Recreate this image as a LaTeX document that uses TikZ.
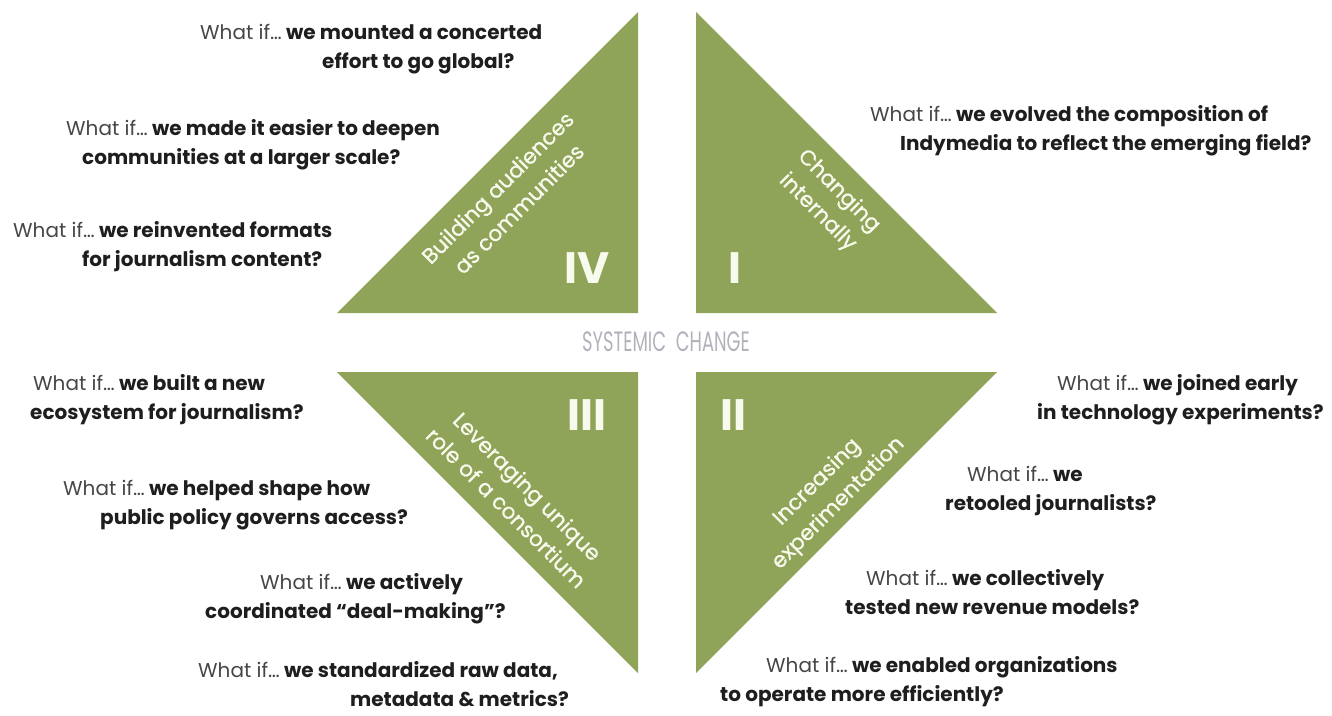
\documentclass[tikz,border=0pt]{standalone}
\usepackage{fontspec}
\setmainfont{Poppins}
\usepackage{tikz}

\definecolor{leaf}{RGB}{143,164,88}
\definecolor{textdark}{RGB}{30,30,30}
\definecolor{whatgray}{RGB}{70,70,70}
\definecolor{centergray}{RGB}{178,178,188}
\definecolor{labelwhite}{RGB}{248,250,238}

\newcommand{\whatif}{{\mdseries\color{whatgray}What if\ldots}}

\tikzset{
  question/.style={anchor=west, align=left, inner sep=0pt, text=textdark,
    font=\bfseries\fontsize{20}{29}\selectfont},
  trilabel/.style={align=center, inner sep=0pt, text=labelwhite,
    font=\addfontfeature{FakeBold=0.8}\fontsize{21.5}{30}\selectfont},
  numeral/.style={inner sep=0pt, text=labelwhite,
    font=\bfseries\fontsize{44}{44}\selectfont}
}

\begin{document}
\begin{tikzpicture}[x=1pt, y=-1pt]
          \useasboundingbox (0, 0) rectangle (1332, 715);

          % Triangles
          \fill [leaf] (337, 313) -- (638, 313) -- (638, 12) -- cycle;
          \fill [leaf] (696, 12) -- (696, 313) -- (997, 313) -- cycle;
          \fill [leaf] (337, 372) -- (638, 372) -- (638, 673) -- cycle;
          \fill [leaf] (696, 372) -- (997, 372) -- (696, 673) -- cycle;

          % Quadrant names
          \node [trilabel, rotate=45] (name4) at (508, 198)
            {Building audiences\\as communities};
          \node [trilabel, rotate=-45] (name1) at (828, 202)
            {Changing\\internally};
          \node [trilabel, rotate=-45] (name3) at (517, 497)
            {Leveraging unique\\role of a consortium};
          \node [trilabel, rotate=45] (name2) at (828, 493)
            {Increasing\\experimentation};

          \node [numeral] (num4) at (587, 268) {IV};
          \node [numeral] (num1) at (735, 268) {I};
          \node [numeral] (num3) at (587, 415) {III};
          \node [numeral] (num2) at (733, 415) {II};

          \node [text=centergray, font=\fontsize{28}{28}\selectfont] (center)
            at (666, 342) {\scalebox{0.64}[1]{SYSTEMIC\ \ CHANGE}};

          % Questions, left side
          \node [question] (q1) at (200, 49)
            {\whatif{} we mounted a concerted\\\hspace*{122pt}effort to go global?};
          \node [question] (q2) at (66, 145)
            {\whatif{} we made it easier to deepen\\\hspace*{16pt}communities at a larger scale?};
          \node [question] (q3) at (13, 247)
            {\whatif{} we reinvented formats\\\hspace*{69pt}for journalism content?};
          \node [question] (q5) at (30, 400)
            {\hspace*{3pt}\whatif{} we built a new\\ecosystem for journalism?};
          \node [question] (q6) at (63, 505)
            {\whatif{} we helped shape how\\\hspace*{37pt}public policy governs access?};
          \node [question] (q7) at (205, 599)
            {\hspace*{55pt}\whatif{} we actively\\coordinated ``deal-making''?};
          \node [question] (q8) at (198, 684)
            {\whatif{} we standardized raw data,\\\hspace*{152pt}metadata \& metrics?};

          % Questions, right side
          \node [question] (q4) at (870, 131)
            {\whatif{} we evolved the composition of\\\hspace*{30pt}Indymedia to reflect the emerging field?};
          \node [question] (q9) at (1037, 400)
            {\hspace*{20pt}\whatif{} we joined early\\in technology experiments?};
          \node [question] (q10) at (945, 491)
            {\hspace*{22pt}\whatif{} we\\retooled journalists?};
          \node [question] (q11) at (845, 592)
            {\hspace*{21pt}\whatif{} we collectively\\tested new revenue models?};
          \node [question] (q12) at (720, 682)
            {\hspace*{46pt}\whatif{} we enabled organizations\\to operate more efficiently?};
        \end{tikzpicture}
\end{document}
